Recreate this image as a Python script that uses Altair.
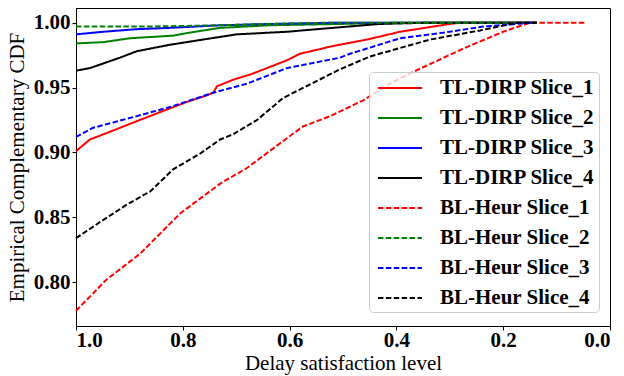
import altair as alt
import pandas as pd

# Empirical complementary CDF curves (x = delay satisfaction level, y = CCDF)
series_names = [
    "TL-DIRP Slice_1", "TL-DIRP Slice_2", "TL-DIRP Slice_3", "TL-DIRP Slice_4",
    "BL-Heur Slice_1", "BL-Heur Slice_2", "BL-Heur Slice_3", "BL-Heur Slice_4",
]
series_colors = ["#ff0000", "#008000", "#0000ff", "#000000",
                 "#ff0000", "#008000", "#0000ff", "#000000"]

tl1_x = [1.0, 0.974, 0.936, 0.893, 0.843, 0.792, 0.755, 0.743, 0.736, 0.706, 0.674, 0.655,
         0.605, 0.581, 0.519, 0.455, 0.393, 0.331, 0.300, 0.281, 0.137]
tl1_y = [0.901, 0.910, 0.916, 0.923, 0.931, 0.939, 0.944, 0.946, 0.951, 0.956, 0.960, 0.963,
         0.971, 0.976, 0.982, 0.987, 0.993, 0.997, 0.999, 1.0, 1.0]

tl2_x = [1.0, 0.949, 0.899, 0.818, 0.792, 0.730, 0.637, 0.506, 0.393, 0.137]
tl2_y = [0.984, 0.985, 0.988, 0.990, 0.992, 0.996, 0.998, 0.999, 1.0, 1.0]

tl3_x = [1.0, 0.949, 0.886, 0.824, 0.730, 0.637, 0.506, 0.137]
tl3_y = [0.991, 0.993, 0.995, 0.996, 0.998, 0.999, 1.0, 1.0]

tl4_x = [1.0, 0.974, 0.918, 0.886, 0.824, 0.762, 0.699, 0.605, 0.519, 0.431, 0.337, 0.137]
tl4_y = [0.963, 0.965, 0.973, 0.978, 0.983, 0.987, 0.991, 0.993, 0.996, 0.999, 1.0, 1.0]

bl1_x = [1.0, 0.943, 0.880, 0.805, 0.730, 0.680, 0.605, 0.575, 0.524, 0.463, 0.412, 0.369,
         0.275, 0.200, 0.150, 0.047]
bl1_y = [0.778, 0.802, 0.822, 0.853, 0.876, 0.888, 0.911, 0.920, 0.928, 0.940, 0.953, 0.962,
         0.980, 0.993, 1.0, 1.0]

bl2_x = [1.0, 0.861, 0.730, 0.637, 0.524, 0.137]
bl2_y = [0.997, 0.997, 0.998, 0.999, 1.0, 1.0]

bl3_x = [1.0, 0.968, 0.886, 0.824, 0.743, 0.680, 0.605, 0.581, 0.506, 0.487, 0.393, 0.300,
         0.238, 0.144]
bl3_y = [0.912, 0.919, 0.928, 0.935, 0.946, 0.953, 0.965, 0.967, 0.973, 0.976, 0.988, 0.993,
         0.997, 1.0]

bl4_x = [1.0, 0.949, 0.904, 0.861, 0.818, 0.768, 0.730, 0.706, 0.661, 0.612, 0.506, 0.449,
         0.337, 0.243, 0.174, 0.137]
bl4_y = [0.834, 0.848, 0.860, 0.870, 0.887, 0.899, 0.910, 0.914, 0.925, 0.942, 0.964, 0.974,
         0.987, 0.994, 1.0, 1.0]

curves = [(tl1_x, tl1_y), (tl2_x, tl2_y), (tl3_x, tl3_y), (tl4_x, tl4_y),
          (bl1_x, bl1_y), (bl2_x, bl2_y), (bl3_x, bl3_y), (bl4_x, bl4_y)]

x_ticks = [0.0, 0.2, 0.4, 0.6, 0.8, 1.0]
y_ticks = [0.80, 0.85, 0.90, 0.95, 1.00]

rows = []
for name, (xs, ys) in zip(series_names, curves):
    for i, (xv, yv) in enumerate(zip(xs, ys)):
        rows.append({"series": name, "level": xv, "ccdf": yv, "order": i})
df = pd.DataFrame(rows)

dash_range = [[1, 0]] * 4 + [[5.5, 2.4]] * 4
width_range = [2.0] * 4 + [1.5] * 4

serif = "Liberation Serif"
font_size = 21

chart = alt.Chart(df).mark_line(interpolate="linear").encode(
    x=alt.X("level:Q",
            scale=alt.Scale(domain=[0.0, 1.0], reverse=True, nice=False, zero=False),
            axis=alt.Axis(values=x_ticks, format=".1f", title="Delay satisfaction level")),
    y=alt.Y("ccdf:Q",
            scale=alt.Scale(domain=[0.7663, 1.0113], nice=False, zero=False),
            axis=alt.Axis(values=y_ticks, format=".2f", title="Empirical Complementary CDF")),
    color=alt.Color("series:N",
                    scale=alt.Scale(domain=series_names, range=series_colors),
                    sort=series_names, title=None),
    strokeDash=alt.StrokeDash("series:N",
                              scale=alt.Scale(domain=series_names, range=dash_range),
                              sort=series_names, title=None),
    strokeWidth=alt.StrokeWidth("series:N",
                                scale=alt.Scale(domain=series_names, range=width_range),
                                sort=series_names, title=None),
    order="order:Q",
).properties(
    width=534,
    height=318,
    autosize=alt.AutoSizeParams(type="none"),
    padding={"left": 76, "top": 8, "right": 14, "bottom": 50},
).configure_view(
    stroke="#000000", strokeWidth=1
).configure_axis(
    grid=False,
    domainColor="#000000",
    domainWidth=1,
    tickColor="#000000",
    tickSize=4,
    tickWidth=1,
    labelFont=serif,
    labelFontSize=font_size,
    labelFontWeight="bold",
    labelColor="#000000",
    labelPadding=2,
    titleFont=serif,
    titleFontSize=font_size,
    titleFontWeight="normal",
    titleColor="#000000",
).configure_axisX(
    labelPadding=-1,
    titlePadding=2,
).configure_axisY(
    titlePadding=6,
).configure_legend(
    orient="none",
    legendX=293,
    legendY=64,
    fillColor="rgba(255,255,255,0.8)",
    strokeColor="#cccccc",
    cornerRadius=4,
    padding=4,
    rowPadding=8,
    labelFont=serif,
    labelFontSize=font_size,
    labelFontWeight="bold",
    labelColor="#000000",
    labelOffset=43,
    labelLimit=300,
    symbolType="M-0.64,0H3.36",
    symbolSize=484,
)

chart.save("out.html", embed_options={"renderer": "svg", "actions": False})
